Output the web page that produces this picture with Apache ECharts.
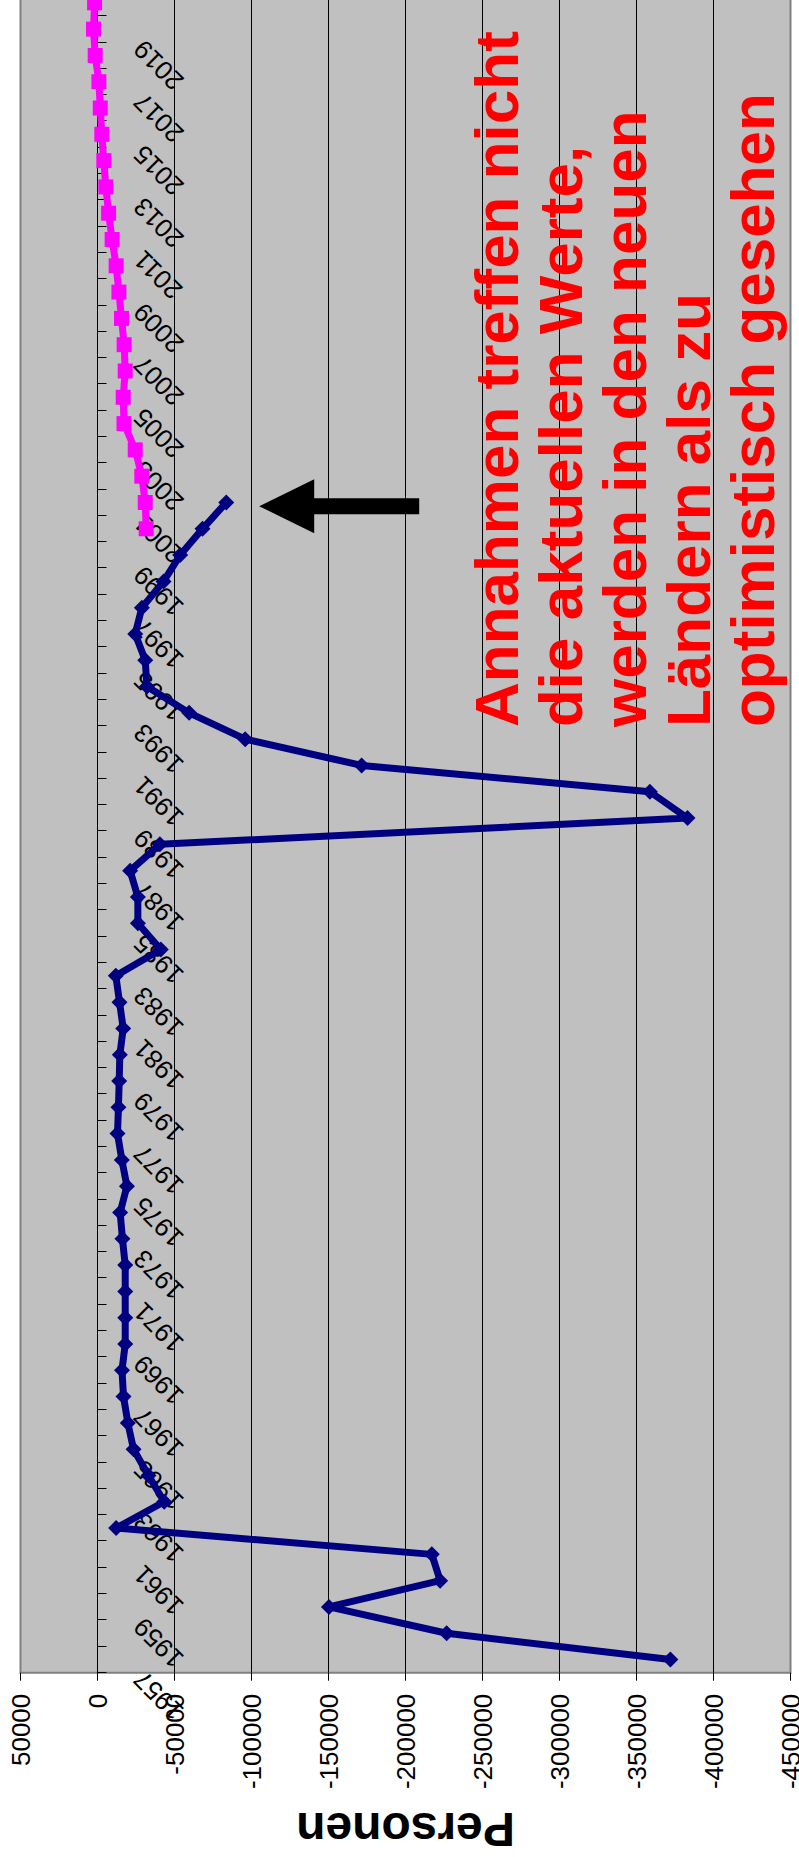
<!DOCTYPE html>
<html>
<head>
<meta charset="utf-8">
<script src="https://cdn.jsdelivr.net/npm/echarts@6/dist/echarts.min.js"></script>
<style>
  html, body { margin: 0; padding: 0; background: #ffffff; }
  #page { position: relative; width: 799px; height: 1857px; overflow: hidden; background: #ffffff; }
  #chart {
    position: absolute; left: 0; top: 0;
    width: 1900px; height: 799px;
    transform-origin: 0 0;
    transform: translate(0px, 1857px) rotate(-90deg);
  }
</style>
</head>
<body>
<div id="page"><div id="chart"></div></div>
<script>
// Categories (years)
const years = ['1957','1958','1959','1960','1961','1962','1963','1964','1965','1966',
  '1967','1968','1969','1970','1971','1972','1973','1974','1975','1976',
  '1977','1978','1979','1980','1981','1982','1983','1984','1985','1986',
  '1987','1988','1989','1990','1991','1992','1993','1994','1995','1996',
  '1997','1998','1999','2000','2001','2002','2003','2004','2005','2006',
  '2007','2008','2009','2010','2011','2012','2013','2014','2015','2016',
  '2017','2018','2019','2020'];

// Observed values 1957-2001 (navy line)
const ostWestValues = [-372000,-226700,-150300,-222500,-217100,-12100,-43300,-33100,-23400,-19700,
  -16900,-15900,-18000,-18000,-18000,-18000,-16200,-14700,-19100,-15800,
  -13000,-13600,-14100,-14500,-16700,-14300,-11900,-41100,-26200,-26200,
  -21200,-40500,-383100,-358700,-171500,-95900,-59500,-32100,-31000,-24500,
  -28800,-42900,-53700,-68200,-83600];

// Assumption (magenta line) 2000-2020
const annahmeYears = ['2000','2001','2002','2003','2004','2005','2006','2007','2008','2009',
  '2010','2011','2012','2013','2014','2015','2016','2017','2018','2019','2020'];
const annahmeValues = [-31600,-31000,-28800,-24500,-17200,-16700,-18000,-17300,-15600,-13900,
  -12100,-9500,-7200,-5400,-4100,-2800,-1800,-900,1500,2600,1900];

// Value axis ticks
const valueMin = -450000, valueMax = 50000, valueStep = 50000;

const annotationLines = ['Annahmen treffen nicht','die aktuellen Werte,','werden in den neuen','Ländern als zu','optimistisch gesehen'];

const FONT = '"Liberation Sans", Arial, sans-serif';

const chart = echarts.init(document.getElementById('chart'), null, {renderer: 'svg'});

const GRID_TOP = 20.5, GRID_BOTTOM = 8.5, CH = 799;
// pixel offset of the zero line from the bottom edge of the plot
const plotH = CH - GRID_TOP - GRID_BOTTOM;
const zeroOffset = -plotH * (0 - valueMin) / (valueMax - valueMin);

const option = {
  animation: false,
  backgroundColor: '#ffffff',
  grid: {
    left: 184.3, right: 32.7, top: GRID_TOP, bottom: GRID_BOTTOM,
    show: true, backgroundColor: '#C0C0C0', borderColor: '#808080', borderWidth: 2,
    containLabel: false,
    outerBoundsMode: 'none'
  },
  xAxis: {
    type: 'category',
    data: years,
    boundaryGap: true,
    position: 'bottom',
    offset: zeroOffset,
    axisLine: { show: true, onZero: false, lineStyle: { color: '#000000', width: 1 } },
    axisTick: { show: true, interval: 0, length: 9, lineStyle: { color: '#000000', width: 1 } },
    axisLabel: {
      show: true, interval: 1, rotate: 45, margin: 25,
      padding: [0, 22, 0, 0],
      hideOverlap: false,
      fontFamily: FONT, fontSize: 26, color: '#000000'
    },
    splitLine: { show: false }
  },
  yAxis: {
    type: 'value',
    min: valueMin, max: valueMax, interval: valueStep,
    name: 'Personen',
    nameLocation: 'middle',
    nameRotate: 90,
    nameGap: 133,
    nameTextStyle: { fontFamily: FONT, fontSize: 48, fontWeight: 'bold', color: '#000000', lineHeight: 48 },
    axisLine: { show: false },
    axisTick: { show: true, length: 8, lineStyle: { color: '#000000', width: 1 } },
    axisLabel: {
      margin: 21, fontFamily: FONT, fontSize: 26, color: '#000000',
      formatter: function (v) { return String(v); }
    },
    splitLine: { show: true, showMinLine: false, showMaxLine: false, lineStyle: { color: '#000000', width: 1 } }
  },
  series: [
    {
      type: 'line',
      data: ostWestValues,
      symbol: 'diamond', symbolSize: 16,
      lineStyle: { color: '#000080', width: 7 },
      itemStyle: { color: '#000080' },
      z: 3
    },
    {
      type: 'line',
      data: annahmeYears.map(function (y, i) { return [y, annahmeValues[i]]; }),
      symbol: 'rect', symbolSize: 15,
      lineStyle: { color: '#FF00FF', width: 7 },
      itemStyle: { color: '#FF00FF' },
      z: 3
    }
  ]
};

chart.setOption(option);

// Arrow pointing at the end of the observed series, annotation text
const tip = chart.convertToPixel({xAxisIndex: 0, yAxisIndex: 0}, ['2001', -105000]);
chart.setOption({
  graphic: [
    {
      type: 'polygon',
      x: tip[0] - 3.7, y: tip[1],
      shape: { points: [[0,0],[27,55],[8,55],[8,160],[-8,160],[-8,55],[-27,55]] },
      style: { fill: '#000000' },
      z: 10
    },
    {
      type: 'text',
      x: 1130, y: 464,
      style: {
        text: annotationLines.join('\n'),
        fill: '#FF0000',
        font: 'bold 62px ' + FONT,
        lineHeight: 64,
        align: 'left',
        verticalAlign: 'top'
      },
      z: 10
    }
  ]
});
</script>
</body>
</html>
